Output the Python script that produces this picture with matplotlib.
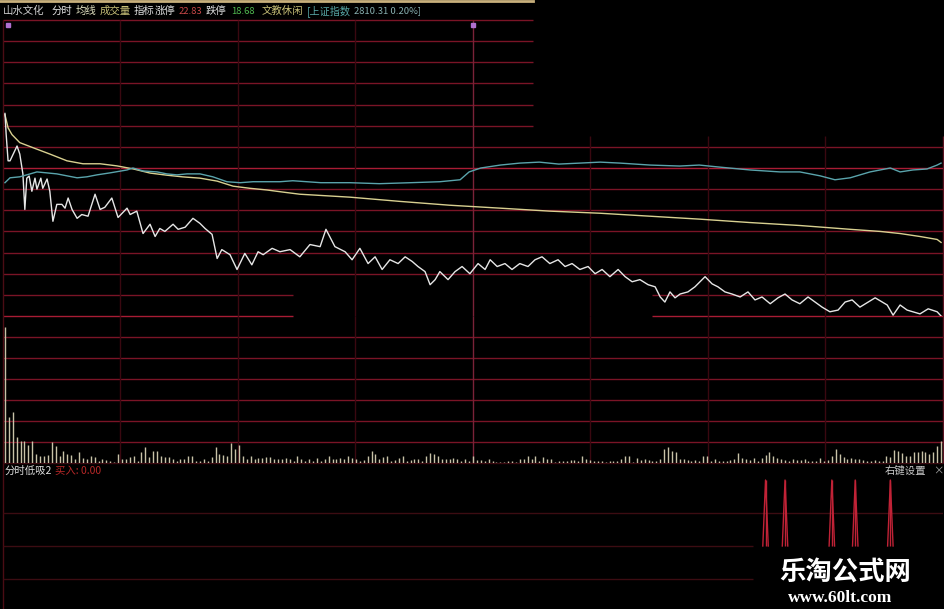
import numpy as np
import matplotlib.pyplot as plt
from matplotlib.lines import Line2D

plt.rcParams['font.family'] = ['Noto Sans CJK SC', 'DejaVu Sans']

# ---- data ----
prev_close = 20.75
limit_up = 22.83
limit_down = 18.68
index_last = 2810.31
index_pct = 0.20

# price line (minute, price)
price_t = [0, 0.3, 0.8, 1.3, 3.1, 3.8, 4.6, 5.1, 5.6, 6.2, 6.9, 7.7, 8.2, 9.2, 9.7,
           10.8, 11.5, 12.3, 13.3, 14.6, 15.4, 16.2, 17.2, 18.5, 19.7, 21.3, 23.1,
           24.4, 25.6, 27.4, 29, 31.3, 32.1, 33.8, 35.4, 37.2, 38.5, 39.7, 41, 43.1,
           44.4, 46.2, 48.2, 50, 51.3, 53.1, 54.4, 55.6, 57.7, 59.5, 61.5, 63.3, 64.9,
           66.2, 68.5, 70.5, 73.1, 75.6, 78.2, 80.8, 82.3, 84.6, 87.2, 89, 91, 93.1,
           94.9, 96.7, 98.7, 100.8, 102.6, 104.4, 105.9, 107.7, 109, 110.3, 111.5,
           113.6, 115.4, 117.2, 119.2, 121.3, 123.1, 124.4, 126.2, 128.2, 130, 132,
           134.1, 135.9, 137.7, 139.7, 141.8, 143.6, 145.4, 147.4, 149.5, 151.3,
           153.1, 155.1, 157.2, 159, 160.8, 162.8, 164.9, 166.7, 168, 169.2, 170.5,
           171.8, 173.1, 175.1, 176.9, 178.2, 179.5, 181.3, 182.8, 184.6, 186.4,
           188.5, 190.5, 192.3, 194.1, 196.2, 198.2, 200, 201.8, 203.8, 205.9, 207.7,
           209.5, 211.5, 213.6, 215.4, 217.2, 219.2, 221.3, 223.1, 224.9, 226.2,
           227.7, 229.5, 231.3, 234.6, 236.7, 239, 240]
price_v = [20.879, 20.831, 20.767, 20.767, 20.802, 20.783, 20.736, 20.652, 20.726,
           20.731, 20.695, 20.726, 20.700, 20.726, 20.702, 20.724, 20.695, 20.624,
           20.664, 20.664, 20.655, 20.679, 20.652, 20.631, 20.640, 20.636, 20.688,
           20.652, 20.657, 20.679, 20.633, 20.655, 20.640, 20.648, 20.595, 20.617,
           20.588, 20.607, 20.600, 20.617, 20.605, 20.610, 20.631, 20.619, 20.607,
           20.593, 20.536, 20.557, 20.545, 20.510, 20.548, 20.521, 20.552, 20.545,
           20.560, 20.552, 20.557, 20.540, 20.569, 20.564, 20.605, 20.564, 20.552,
           20.533, 20.560, 20.524, 20.540, 20.510, 20.533, 20.524, 20.540, 20.529,
           20.517, 20.505, 20.474, 20.486, 20.505, 20.486, 20.505, 20.517, 20.500,
           20.524, 20.510, 20.533, 20.517, 20.524, 20.510, 20.524, 20.517, 20.533,
           20.540, 20.524, 20.533, 20.517, 20.524, 20.510, 20.517, 20.500, 20.510,
           20.493, 20.510, 20.493, 20.481, 20.486, 20.474, 20.469, 20.445, 20.433,
           20.457, 20.443, 20.452, 20.457, 20.469, 20.481, 20.493, 20.476, 20.469,
           20.457, 20.452, 20.445, 20.457, 20.438, 20.445, 20.429, 20.443, 20.452,
           20.438, 20.429, 20.445, 20.433, 20.421, 20.410, 20.414, 20.433, 20.438,
           20.421, 20.433, 20.443, 20.433, 20.426, 20.402, 20.426, 20.414, 20.405,
           20.417, 20.410, 20.400]

# average price line
avg_t = [0, 0.8, 1.8, 3.8, 7.2, 11.5, 15.9, 20, 24.4, 28.7, 32.8, 37.2, 41.5, 45.6,
         50, 54.4, 58.5, 62.8, 67.2, 71.3, 75.6, 88.5, 101.3, 114, 127, 139.7, 152.6,
         165.4, 178.2, 191, 203.8, 216.7, 224.4, 229.5, 234.6, 239, 240]
avg_v = [20.876, 20.845, 20.829, 20.810, 20.798, 20.783, 20.767, 20.760, 20.760,
         20.755, 20.748, 20.738, 20.733, 20.729, 20.726, 20.719, 20.707, 20.702,
         20.698, 20.693, 20.688, 20.681, 20.671, 20.662, 20.655, 20.648, 20.643,
         20.636, 20.629, 20.621, 20.614, 20.605, 20.600, 20.595, 20.588, 20.581,
         20.574]

# 上证指数 overlay
idx_t = [0, 1.3, 3.8, 5.6, 8.2, 10.8, 13.3, 15.9, 18.5, 21, 23.6, 26.9, 31.3, 32.8,
         35.4, 39, 41.5, 44.1, 46.7, 50, 53.3, 56.9, 60.3, 63.6, 67.2, 70.5, 73.8,
         81, 88.5, 96, 104, 111.5, 116.7, 119, 122, 127, 132, 137, 142, 147.4, 152.6,
         157.7, 165.4, 173, 178, 183, 191, 198.7, 203.8, 209, 212.8, 216.7, 221.8,
         227, 229.5, 232.8, 236.4, 239, 240]
idx_v = [2803.4, 2803.9, 2804.0, 2804.2, 2804.5, 2804.4, 2804.3, 2804.1, 2803.9,
         2804.0, 2804.2, 2804.4, 2804.7, 2804.9, 2804.6, 2804.5, 2804.3, 2804.2,
         2804.3, 2804.3, 2804.0, 2803.5, 2803.4, 2803.5, 2803.5, 2803.5, 2803.6,
         2803.4, 2803.4, 2803.3, 2803.4, 2803.5, 2803.7, 2804.5, 2804.9, 2805.2,
         2805.4, 2805.5, 2805.3, 2805.4, 2805.5, 2805.4, 2805.2, 2805.1, 2805.2,
         2805.0, 2804.7, 2804.5, 2804.5, 2804.1, 2803.7, 2803.9, 2804.5, 2804.9,
         2804.5, 2804.7, 2804.8, 2805.2, 2805.4]

# volume per minute (241 bars)
volume = [136, 46, 51, 26, 22, 22, 18, 22, 9, 7,
          7, 8, 21, 17, 7, 12, 9, 8, 4, 11,
          5, 4, 7, 6, 2, 4, 3, 2, 1, 9,
          4, 4, 6, 7, 2, 11, 16, 6, 12, 12,
          7, 6, 6, 4, 2, 4, 4, 7, 7, 2,
          2, 4, 2, 6, 16, 9, 8, 7, 20, 14,
          18, 7, 4, 7, 4, 5, 5, 6, 6, 4,
          4, 4, 5, 4, 2, 7, 4, 2, 4, 2,
          5, 2, 4, 7, 4, 4, 5, 4, 7, 5,
          4, 2, 3, 7, 12, 9, 4, 6, 7, 2,
          3, 5, 7, 2, 3, 4, 4, 2, 7, 10,
          9, 7, 4, 4, 4, 5, 4, 2, 4, 2,
          7, 3,
          3, 2, 4, 2, 1, 1, 1, 2, 2, 1,
          4, 4, 7, 4, 7, 2, 6, 4, 4, 1,
          2, 2, 2, 3, 3, 2, 7, 4, 3, 2, 2,
          2, 1, 2, 2, 2, 4, 7, 7, 1, 5,
          3, 4, 3, 2, 2, 4, 14, 16, 12, 11, 4,
          4, 3, 2, 3, 2, 7, 7, 2, 4, 2,
          2, 2, 3, 4, 10, 5, 4, 3, 5, 2,
          5, 8, 11, 7, 5, 4, 3, 2, 4, 3,
          3, 4, 2, 2, 2, 5, 2, 3, 7, 14, 9,
          6, 4, 5, 4, 4, 3, 2, 2, 3, 2, 2,
          7, 6, 13, 12, 10, 7, 7, 11, 11, 12,
          11, 9, 11, 17, 22]

# 分时低吸2 buy signals (minute index)
signal_t = [195, 200, 212, 218, 227]

# ---- layout ----
W, H = 945, 609
fig = plt.figure(figsize=(W / 100, H / 100), dpi=100, facecolor='black')


def box(y0, y1):
    return [3 / W, 1 - y1 / H, 940 / W, (y1 - y0) / H]


ax_p = fig.add_axes(box(20, 316))
ax_v = fig.add_axes(box(316, 463))
ax_s = fig.add_axes(box(463, 609))
for a in (ax_p, ax_v, ax_s):
    a.set_xlim(0, 241)
    a.axis('off')

step = 0.05
ax_p.set_ylim(prev_close - 7 * step, prev_close + 7 * step)
ax_v.set_ylim(0, 147)
ax_s.set_ylim(-0.955, 1.258)

grid_c = '#7a1426'
grid_hi = '#a81c34'
vert_c = '#3a0810'

# price grid
for k in range(-7, 8):
    lv = prev_close + k * step
    c = grid_hi if k in (0, -7) else grid_c
    if k >= 2:
        ax_p.hlines(lv, 0, 135.9, color=c, lw=1, clip_on=False)
    elif k in (-6, -7):
        ax_p.hlines(lv, 0, 74.4, color=c, lw=1, clip_on=False)
        ax_p.hlines(lv, 166.4, 241, color=c, lw=1, clip_on=False)
    else:
        ax_p.hlines(lv, 0, 241, color=c, lw=1, clip_on=False)

# volume grid
for k in range(1, 7):
    ax_v.hlines(21 * k, 0, 241, color=grid_c, lw=1)
ax_v.hlines(0, 0, 241, color='#3a0a10', lw=1, clip_on=False)

# vertical dividers
top_mask = prev_close + 32 / 420
for k in range(1, 9):
    xk = k * 241 / 8
    c = '#7a2238' if k == 4 else vert_c
    ymax = prev_close + 7 * step if k <= 4 else top_mask
    if k == 8:
        c = '#5a1220'
    ax_p.vlines(xk, prev_close - 7 * step, ymax, color=c, lw=1, clip_on=False)
    ax_v.vlines(xk, 0, 147, color=c, lw=1, clip_on=False)
for a, lo, hi in ((ax_p, prev_close - 7 * step, prev_close + 7 * step),
                  (ax_v, 0, 147), (ax_s, -0.955, 1.258)):
    a.vlines(0, lo, hi, color='#4a0c14', lw=1, clip_on=False)

# markers at top
ax_p.plot([1.2, 120.5], [prev_close + 6.75 * step] * 2, 's', ms=2.5,
          color='#b070d0', clip_on=False)

# price, average, index lines
ax_p.plot(np.array(avg_t) + 0.5, avg_v, color='#d8d090', lw=1.0)
ax_p.plot(np.array(price_t) + 0.5, price_v, color='#e6e6e6', lw=1.0)
ax_i = ax_p.twinx()
ax_i.axis('off')
ax_i.set_ylim(2789.8, 2820.0)
ax_i.plot(np.array(idx_t) + 0.5, idx_v, color='#5aa4ac', lw=1.0)

# volume bars
ax_v.vlines(np.arange(len(volume)) + 0.5, 0, volume, color='#c8c2a8', lw=1.0)

# indicator panel
ax_s.hlines(0.5, 0, 241, color='#3c0c12', lw=1)
ax_s.hlines([0, -0.5], 0, 192.3, color='#3c0c12', lw=1)
for s in signal_t:
    ax_s.plot([s - 0.2, s + 0.5, s + 1.2], [0, 1, 0], color='#c02236', lw=1)
    ax_s.vlines(s + 0.5, 0, 1, color='#c02236', lw=1)

# header
fig.add_artist(Line2D([0, 533 / W], [1 - 1 / H, 1 - 1 / H], color='#c8b07c', lw=2))
hy = 1 - 11 / H
header = [(3, '山水文化', '#d0d0d0', 7.5), (52, '分时', '#e8e8e8', 7.5),
          (76, '均线', '#e0e0c0', 7.5), (100, '成交量', '#c8c078', 7.5),
          (134, '指标', '#e0e0e0', 7.5), (155, '涨停', '#e0e0e0', 7.5),
          (179, f'{limit_up:.2f}', '#c84848', 6.8), (206, '跌停', '#e0e0e0', 7.5),
          (231, f'{limit_down:.2f}', '#50b850', 6.8), (262, '文教休闲', '#c8c078', 7.5),
          (307, '[上证指数', '#58a8a8', 7.3),
          (354, f'{index_last:.2f} {index_pct:.2f}%]', '#88b0b0', 6.8)]
for x, s, c, fs in header:
    fig.text(x / W, hy, s, color=c, fontsize=fs, va='center', ha='left')

ly = 1 - 471 / H
fig.text(5 / W, ly, '分时低吸2', color='#e0e0e0', fontsize=7.5, va='center')
fig.text(55 / W, ly, '买入: 0.00', color='#b82828', fontsize=7.5, va='center')
fig.text(885 / W, ly, '右键设置', color='#c8c8c8', fontsize=7.5, va='center')
fig.text(933 / W, ly, '×', color='#a0a0a0', fontsize=7.5, va='center')

# watermark
fig.text(845 / W, 1 - 572 / H, '乐淘公式网', color='white', fontsize=19,
         fontweight='bold', ha='center', va='center')
fig.text(840 / W, 1 - 598 / H, 'www.60lt.com', color='white', fontsize=12.5,
         fontweight='bold', ha='center', va='center', family='Liberation Serif')

fig.savefig('out.png', dpi=100, facecolor='black')
